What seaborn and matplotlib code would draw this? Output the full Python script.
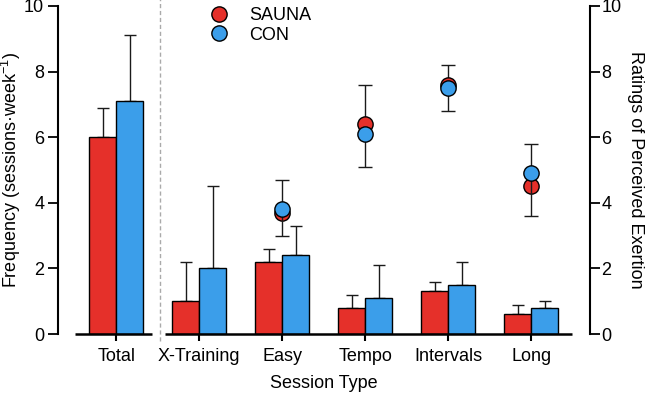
import matplotlib
matplotlib.use("Agg")
import matplotlib.pyplot as plt
from matplotlib.lines import Line2D
import numpy as np
import pandas as pd
import seaborn as sns

# ---- data ----
sessions = ["Total", "X-Training", "Easy", "Tempo", "Intervals", "Long"]
groups = ["SAUNA", "CON"]
freq_sauna = [6.0, 1.0, 2.2, 0.8, 1.3, 0.6]
freq_sauna_sd = [0.9, 1.2, 0.4, 0.4, 0.3, 0.3]
freq_con = [7.1, 2.0, 2.4, 1.1, 1.5, 0.8]
freq_con_sd = [2.0, 2.5, 0.9, 1.0, 0.7, 0.2]

rpe_sessions = ["Easy", "Tempo", "Intervals", "Long"]
rpe_sauna = [3.7, 6.4, 7.6, 4.5]
rpe_sauna_sd = [1.0, 1.2, 0.6, 1.3]   # drawn upward
rpe_con = [3.8, 6.1, 7.5, 4.9]
rpe_con_sd = [0.8, 1.0, 0.7, 1.3]     # drawn downward

red = "#E5302A"
blue = "#3B9EEA"
palette = {"SAUNA": red, "CON": blue}

sns.set_style("ticks")
plt.rcParams["font.family"] = ["Liberation Sans", "DejaVu Sans"]
plt.rcParams["mathtext.fontset"] = "custom"
plt.rcParams["mathtext.rm"] = "Liberation Sans"
plt.rcParams["mathtext.default"] = "regular"
for k in ["text.color", "axes.labelcolor", "xtick.color", "ytick.color",
          "axes.edgecolor"]:
    plt.rcParams[k] = "black"

df = pd.DataFrame({
    "session": sessions * 2,
    "group": ["SAUNA"] * len(sessions) + ["CON"] * len(sessions),
    "freq": freq_sauna + freq_con,
})

fig = plt.figure(figsize=(6.45, 3.94), dpi=100)
ax = fig.add_axes([0.090, 0.152, 0.825, 0.833])

sns.barplot(data=df, x="session", y="freq", hue="group", order=sessions,
            hue_order=groups, palette=palette, saturation=1, width=0.65,
            edgecolor="black", linewidth=1.0, errorbar=None, legend=False,
            ax=ax, zorder=2)

# error bars (upper only) on bars
for cont, sd in zip(ax.containers, [freq_sauna_sd, freq_con_sd]):
    xs = [b.get_x() + b.get_width() / 2 for b in cont]
    ys = [b.get_height() for b in cont]
    ax.errorbar(xs, ys, yerr=[np.zeros(len(sd)), sd], fmt="none",
                ecolor="#1a1a1a", elinewidth=1.0, capsize=4, capthick=1.0,
                zorder=1, clip_on=False)

pos = {t.get_text(): p for t, p in zip(ax.get_xticklabels(), ax.get_xticks())}

ax.set_xlim(-0.70, 5.71)
ax.set_ylim(0, 10)
ax.set_yticks([0, 2, 4, 6, 8, 10])
ax.spines["top"].set_visible(False)
ax.spines["right"].set_visible(False)
ax.spines["bottom"].set_visible(False)
ax.spines["left"].set_linewidth(1.5)
ax.tick_params(axis="y", length=7, width=1.3, labelsize=13, pad=3,
               colors="black")
ax.tick_params(axis="x", length=5, width=1.5, labelsize=13, pad=5,
               colors="black")

# broken x-axis
p0 = pos["Total"]
ax.plot([p0 - 0.49, p0 + 0.43], [0, 0], color="black", lw=1.8,
        clip_on=False, zorder=3, solid_capstyle="butt")
ax.plot([p0 + 0.59, pos["Long"] + 0.49], [0, 0], color="black", lw=1.8,
        clip_on=False, zorder=3, solid_capstyle="butt")
ax.plot([p0 + 0.53, p0 + 0.53], [-0.2, 10.2], color="#aaaaaa", lw=1.0,
        ls=(0, (3, 2)), clip_on=False, zorder=0)

ax.set_xlabel("Session Type", fontsize=13, labelpad=7, color="black")
ax.set_ylabel(r"Frequency (sessions·week$^{-1}$)", fontsize=13, labelpad=1,
              color="black")

# RPE on right axis
ax2 = ax.twinx()
ax2.set_ylim(0, 10)
ax2.set_yticks([0, 2, 4, 6, 8, 10])
for sp in ["top", "left", "bottom"]:
    ax2.spines[sp].set_visible(False)
ax2.spines["right"].set_linewidth(1.5)
ax2.spines["right"].set_color("black")
ax2.tick_params(axis="y", length=7, width=1.3, labelsize=13, pad=1,
                colors="black")
rx = [pos[s] for s in rpe_sessions]
ax2.errorbar(rx, rpe_sauna, yerr=[np.zeros(len(rpe_sauna_sd)), rpe_sauna_sd],
             fmt="o", color=red, mfc=red, mec="black", mew=1.0, ms=11,
             ecolor="#1a1a1a", elinewidth=1.0, capsize=5, capthick=1.0,
             zorder=3)
ax2.errorbar(rx, rpe_con, yerr=[rpe_con_sd, np.zeros(len(rpe_con_sd))],
             fmt="o", color=blue, mfc=blue, mec="black", mew=1.0, ms=11,
             ecolor="#1a1a1a", elinewidth=1.0, capsize=5, capthick=1.0,
             zorder=4)
ax2.set_ylabel("Ratings of Perceived Exertion", fontsize=13, rotation=270,
               labelpad=16, color="black")

handles = [Line2D([], [], marker="o", ls="none", ms=11, mfc=c, mec="black",
                  mew=1.0) for c in [red, blue]]
fig.legend(handles, groups, loc="upper left", bbox_to_anchor=(0.325, 0.982),
           frameon=False, fontsize=13, handlelength=1.0, handletextpad=1.2,
           labelspacing=0.15, borderpad=0.0, borderaxespad=0.0)

fig.savefig("out.png", dpi=100)
